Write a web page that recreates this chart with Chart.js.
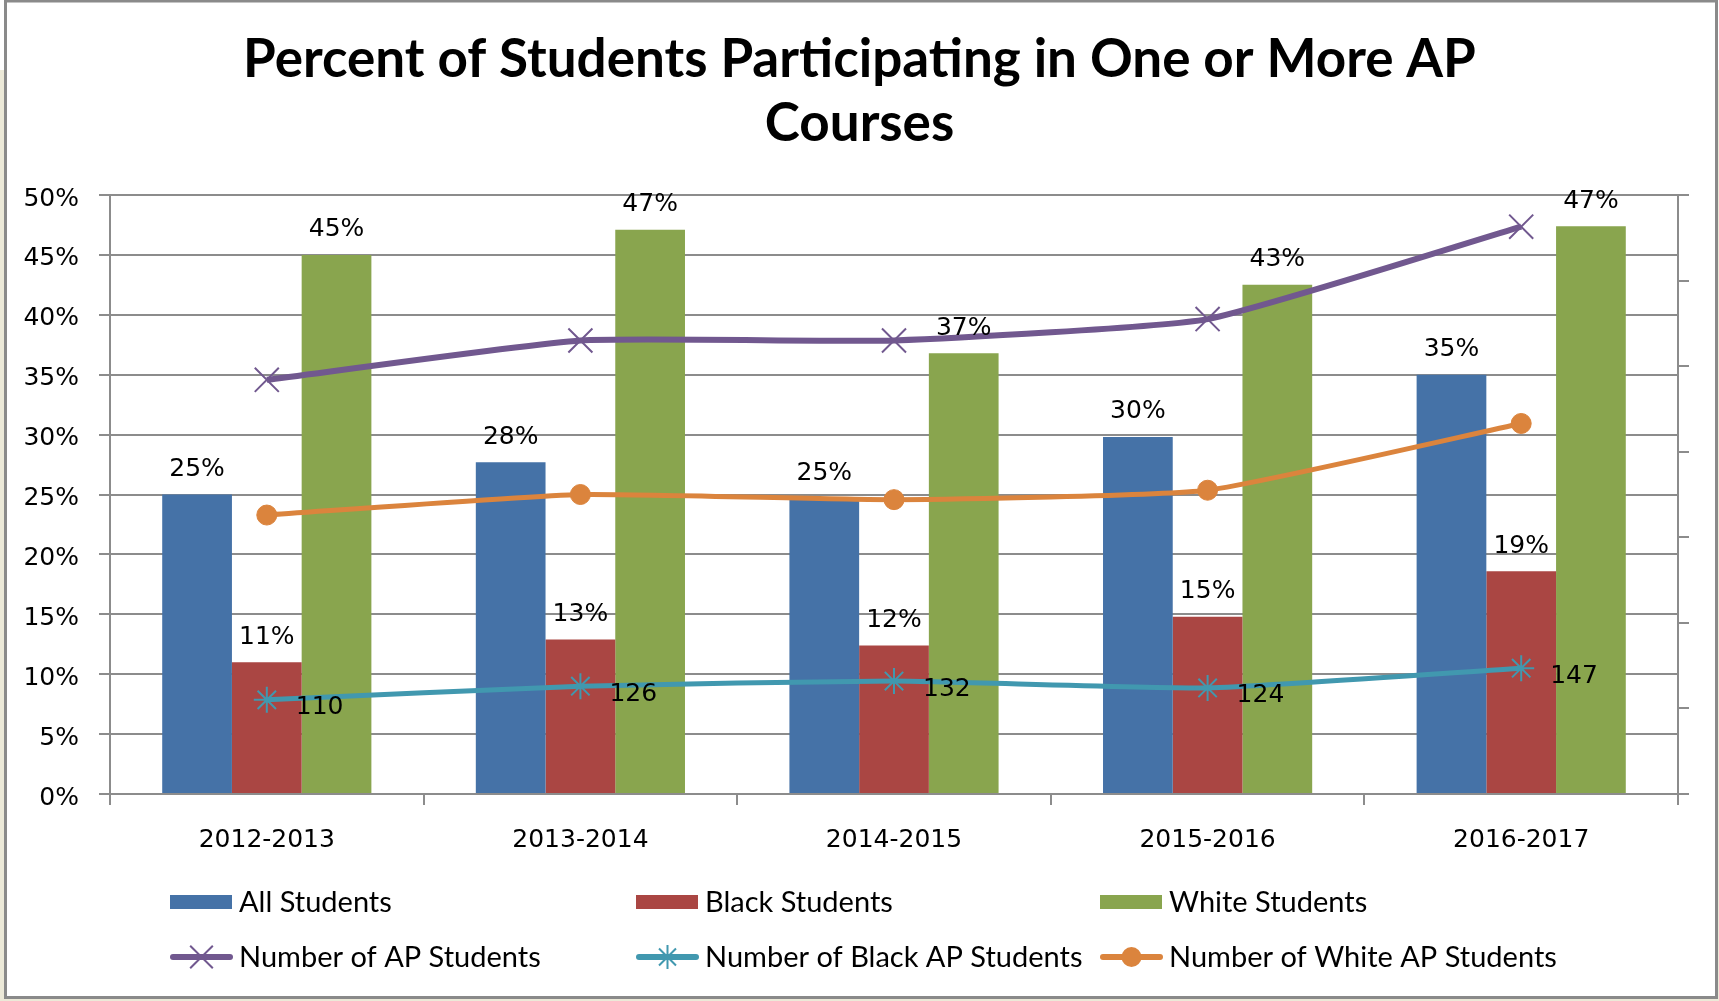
<!DOCTYPE html>
<html><head><meta charset="utf-8">
<script src="https://cdn.jsdelivr.net/npm/chart.js@4.4.1/dist/chart.umd.min.js"></script>
<style>html,body{margin:0;padding:0;background:#fff;}canvas{display:block;}</style>
</head><body>
<canvas id="c" width="1719" height="1001"></canvas>
<script>
// ---- data ----
const categories = ['2012-2013', '2013-2014', '2014-2015', '2015-2016', '2016-2017'];
const titleLines = ['Percent of Students Participating in One or More AP', 'Courses'];
const yTickLabels = ['0%', '5%', '10%', '15%', '20%', '25%', '30%', '35%', '40%', '45%', '50%'];
const allStudents = [25.0, 27.7, 24.7, 29.8, 35.0];
const blackStudents = [11.0, 12.9, 12.4, 14.8, 18.6];
const whiteStudents = [45.0, 47.1, 36.8, 42.5, 47.4];
const apStudents = [484, 530, 530, 555, 663];
const blackAPStudents = [110, 126, 132, 124, 147];
const whiteAPStudents = [326, 350, 344, 355, 433];
const seriesNames = ['All Students', 'Black Students', 'White Students',
  'Number of AP Students', 'Number of Black AP Students', 'Number of White AP Students'];

// ---- styles ----
const GRID = '#8c8c8c';
const TICK_FONT = { family: '"DejaVu Sans"', size: 25 };
const LEGEND_FONT = '29px Lato';
const colors = ['#4572A7', '#AA4643', '#89A54E', '#71588F', '#4198AF', '#DB843D'];

function drawMarker(ctx, style, x, y, r, color, lw) {
  ctx.save();
  ctx.strokeStyle = color; ctx.fillStyle = color; ctx.lineWidth = lw; ctx.lineCap = 'butt';
  ctx.beginPath();
  if (style === 'circle') {
    ctx.arc(x, y, r, 0, Math.PI * 2); ctx.fill();
  } else {
    const d = r * Math.SQRT1_2;
    ctx.moveTo(x - d, y - d); ctx.lineTo(x + d, y + d);
    ctx.moveTo(x - d, y + d); ctx.lineTo(x + d, y - d);
    if (style === 'star') { ctx.moveTo(x, y - r); ctx.lineTo(x, y + r); ctx.moveTo(x - r, y); ctx.lineTo(x + r, y); }
    ctx.stroke();
  }
  ctx.restore();
}

const framePlugin = {
  id: 'frame',
  beforeDraw(chart) {
    const ctx = chart.ctx, W = chart.width, H = chart.height;
    ctx.save();
    ctx.fillStyle = '#ffffff'; ctx.fillRect(0, 0, W, H);
    ctx.fillStyle = '#ECE9D8';
    ctx.fillRect(0, 70, 4, H - 70);
    ctx.fillRect(W - 3, 70, 3, H - 70);
    ctx.fillRect(0, H - 3, W, 3);
    ctx.strokeStyle = '#8a8a8a'; ctx.lineWidth = 3;
    ctx.strokeRect(5.5, 1, W - 8, H - 4.5);
    ctx.restore();
  },
  afterDatasetsDraw(chart) {
    const ctx = chart.ctx;
    ctx.save();
    ctx.font = '25px "DejaVu Sans"';
    ctx.fillStyle = '#000';
    [0, 1, 2].forEach(i => {
      const ds = chart.data.datasets[i];
      chart.getDatasetMeta(i).data.forEach((el, j) => {
        ctx.textAlign = 'center'; ctx.textBaseline = 'middle';
        ctx.fillText(Math.round(ds.data[j]) + '%', el.x, el.y - 25);
      });
    });
    const dsB = chart.data.datasets[4];
    chart.getDatasetMeta(4).data.forEach((el, j) => {
      ctx.textAlign = 'left'; ctx.textBaseline = 'middle';
      ctx.fillText(String(dsB.data[j]), el.x + 29, el.y + 8);
    });
    ctx.restore();
  },
  afterDraw(chart) {
    const ctx = chart.ctx;
    const cols = [170, 636, 1100], rows = [902, 957];
    ctx.save();
    chart.data.datasets.forEach((ds, i) => {
      const x0 = cols[i % 3], y = rows[Math.floor(i / 3)];
      if (ds.type === 'bar') {
        ctx.fillStyle = ds.backgroundColor;
        ctx.fillRect(x0, y - 7, 62, 14);
      } else {
        ctx.strokeStyle = ds.borderColor; ctx.lineWidth = 6; ctx.lineCap = 'round';
        ctx.beginPath(); ctx.moveTo(x0 + 3, y); ctx.lineTo(x0 + 60, y); ctx.stroke();
        drawMarker(ctx, ds.pointStyle === 'crossRot' ? 'x' : ds.pointStyle, x0 + 31.5, y,
          ds.pointStyle === 'circle' ? 10 : (ds.pointStyle === 'star' ? 12 : 16), ds.borderColor, 2);
      }
      ctx.fillStyle = '#000'; ctx.font = LEGEND_FONT; ctx.textAlign = 'left'; ctx.textBaseline = 'middle';
      ctx.fillText(ds.label, x0 + 69, y + 1);
    });
    ctx.restore();
  }
};

const lineCommon = { type: 'line', yAxisID: 'y1', order: 1, tension: 0.15, fill: false, pointBorderWidth: 2 };

new Chart(document.getElementById('c'), {
  data: {
    labels: categories,
    datasets: [
      { type: 'bar', label: seriesNames[0], data: allStudents, backgroundColor: colors[0], yAxisID: 'y', order: 2 },
      { type: 'bar', label: seriesNames[1], data: blackStudents, backgroundColor: colors[1], yAxisID: 'y', order: 2 },
      { type: 'bar', label: seriesNames[2], data: whiteStudents, backgroundColor: colors[2], yAxisID: 'y', order: 2 },
      Object.assign({}, lineCommon, { label: seriesNames[3], data: apStudents, borderColor: colors[3], backgroundColor: colors[3],
        borderWidth: 6, pointStyle: 'crossRot', pointRadius: 17, pointBorderColor: colors[3] }),
      Object.assign({}, lineCommon, { label: seriesNames[4], data: blackAPStudents, borderColor: colors[4], backgroundColor: colors[4],
        borderWidth: 5, pointStyle: 'star', pointRadius: 13, pointBorderColor: colors[4] }),
      Object.assign({}, lineCommon, { label: seriesNames[5], data: whiteAPStudents, borderColor: colors[5], backgroundColor: colors[5],
        borderWidth: 5, pointStyle: 'circle', pointRadius: 10, pointBorderWidth: 1, pointBorderColor: colors[5] })
    ]
  },
  options: {
    responsive: false, animation: false, devicePixelRatio: 1,
    layout: { padding: 0 },
    datasets: { bar: { barPercentage: 1.0, categoryPercentage: 0.667 } },
    plugins: {
      legend: { display: false },
      tooltip: { enabled: false },
      title: { display: true, text: titleLines, color: '#000',
        font: { family: 'Lato', weight: 'bold', size: 53, lineHeight: '64px' },
        padding: { top: 28, bottom: 39 } }
    },
    scales: {
      x: {
        grid: { drawOnChartArea: false, drawTicks: true, tickLength: 11, color: GRID, lineWidth: 2, offset: true },
        border: { display: true, color: GRID, width: 2 },
        ticks: { font: TICK_FONT, color: '#000', padding: 20, maxRotation: 0 },
        afterFit(s) { s.height = 207; }
      },
      y: {
        position: 'left', min: 0, max: 50,
        ticks: { stepSize: 5, font: TICK_FONT, color: '#000', padding: 20, labelOffset: 4, callback: (v, i) => yTickLabels[i] },
        grid: { color: GRID, lineWidth: 2, tickLength: 11 },
        border: { display: true, color: GRID, width: 2 },
        afterFit(s) { s.width = 110; }
      },
      y1: {
        position: 'right', min: 0, max: 700,
        ticks: { stepSize: 100, display: false },
        grid: { drawOnChartArea: false, tickLength: 11, color: GRID, lineWidth: 2 },
        border: { display: true, color: GRID, width: 2 },
        afterFit(s) { s.width = 41; }
      }
    }
  },
  plugins: [framePlugin]
});
</script>
</body></html>
